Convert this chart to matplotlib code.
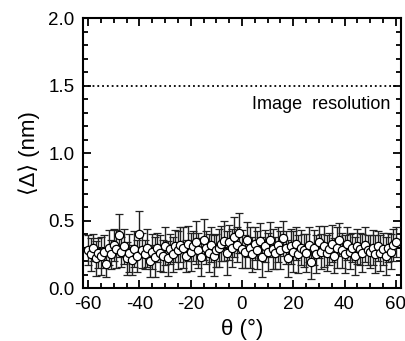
import numpy as np
import matplotlib.pyplot as plt
from matplotlib.ticker import MultipleLocator

plt.rcParams['font.family'] = ['Liberation Sans', 'DejaVu Sans']
plt.rcParams['axes.unicode_minus'] = False

# angle (deg) and mean displacement <Delta> (nm) with error
theta = np.arange(-60, 61, 1)
delta = [0.28, 0.25, 0.30, 0.22, 0.26, 0.24, 0.27, 0.18, 0.30, 0.25, 0.32,
         0.29, 0.39, 0.27, 0.31, 0.22, 0.26, 0.21, 0.29, 0.24, 0.40, 0.28,
         0.25, 0.30, 0.20, 0.27, 0.23, 0.30, 0.26, 0.24, 0.31, 0.22, 0.29,
         0.25, 0.31, 0.28, 0.32, 0.30, 0.24, 0.33, 0.27, 0.31, 0.34, 0.28,
         0.23, 0.36, 0.30, 0.26, 0.32, 0.24, 0.28, 0.30, 0.33, 0.35, 0.26,
         0.34, 0.30, 0.38, 0.32, 0.41, 0.29, 0.27, 0.36, 0.30, 0.25, 0.33,
         0.28, 0.35, 0.23, 0.31, 0.27, 0.36, 0.29, 0.26, 0.32, 0.28, 0.37,
         0.30, 0.22, 0.31, 0.27, 0.33, 0.25, 0.30, 0.28, 0.26, 0.32, 0.19,
         0.30, 0.25, 0.34, 0.27, 0.31, 0.26, 0.29, 0.33, 0.24, 0.30, 0.36,
         0.28, 0.25, 0.33, 0.27, 0.30, 0.24, 0.31, 0.29, 0.26, 0.32, 0.28,
         0.27, 0.30, 0.25, 0.31, 0.26, 0.29, 0.24, 0.30, 0.27, 0.32, 0.34]
err = [0.11, 0.12, 0.10, 0.13, 0.11, 0.14, 0.12, 0.10, 0.13, 0.11, 0.12,
       0.14, 0.16, 0.11, 0.13, 0.12, 0.14, 0.11, 0.13, 0.12, 0.17, 0.13,
       0.11, 0.14, 0.12, 0.13, 0.15, 0.11, 0.13, 0.12, 0.14, 0.13, 0.11,
       0.13, 0.12, 0.14, 0.13, 0.15, 0.12, 0.13, 0.14, 0.11, 0.16, 0.13,
       0.14, 0.15, 0.12, 0.14, 0.13, 0.15, 0.12, 0.14, 0.13, 0.15, 0.16,
       0.13, 0.14, 0.15, 0.13, 0.15, 0.14, 0.12, 0.13, 0.15, 0.13, 0.12,
       0.14, 0.13, 0.15, 0.12, 0.14, 0.13, 0.15, 0.12, 0.13, 0.14, 0.13,
       0.12, 0.14, 0.13, 0.15, 0.12, 0.14, 0.13, 0.12, 0.14, 0.13, 0.12,
       0.13, 0.14, 0.12, 0.13, 0.15, 0.13, 0.12, 0.14, 0.13, 0.15, 0.12,
       0.13, 0.14, 0.12, 0.13, 0.11, 0.14, 0.13, 0.12, 0.14, 0.13, 0.11,
       0.12, 0.13, 0.14, 0.11, 0.13, 0.12, 0.14, 0.11, 0.13, 0.12, 0.11]
mean_delta = 0.30
resolution = 1.5

fig = plt.figure(figsize=(4.05, 3.41), dpi=100)
ax = fig.add_axes([0.205, 0.155, 0.785, 0.792])

ax.axhline(mean_delta, color='black', lw=1.5, zorder=2)
ax.errorbar(theta, delta, yerr=err, fmt='o', ms=6, mfc='white', mec='black',
            mew=0.9, ecolor='#222222', elinewidth=1.0, capsize=3, capthick=1.0,
            zorder=3)
ax.plot([-62, 60], [resolution, resolution], color='black', ls=':', lw=1.3)
ax.text(58, 1.36, 'Image  resolution', ha='right', va='center', fontsize=13)

ax.set_xlim(-62, 62)
ax.set_ylim(0, 2.0)
ax.xaxis.set_major_locator(MultipleLocator(20))
ax.xaxis.set_minor_locator(MultipleLocator(5))
ax.yaxis.set_major_locator(MultipleLocator(0.5))
ax.yaxis.set_minor_locator(MultipleLocator(0.1))
ax.yaxis.set_major_formatter(plt.FormatStrFormatter('%.1f'))
ax.tick_params(which='both', direction='in', top=True, right=True, width=1.3,
               labelsize=13.5)
ax.tick_params(which='major', length=6, pad=6)
ax.tick_params(which='minor', length=3.5)
for s in ax.spines.values():
    s.set_linewidth(1.5)

ax.set_xlabel('θ (°)', fontsize=16, labelpad=4)
ax.set_ylabel('⟨Δ⟩ (nm)', fontsize=16, labelpad=6)

fig.savefig('out.png', dpi=100)
